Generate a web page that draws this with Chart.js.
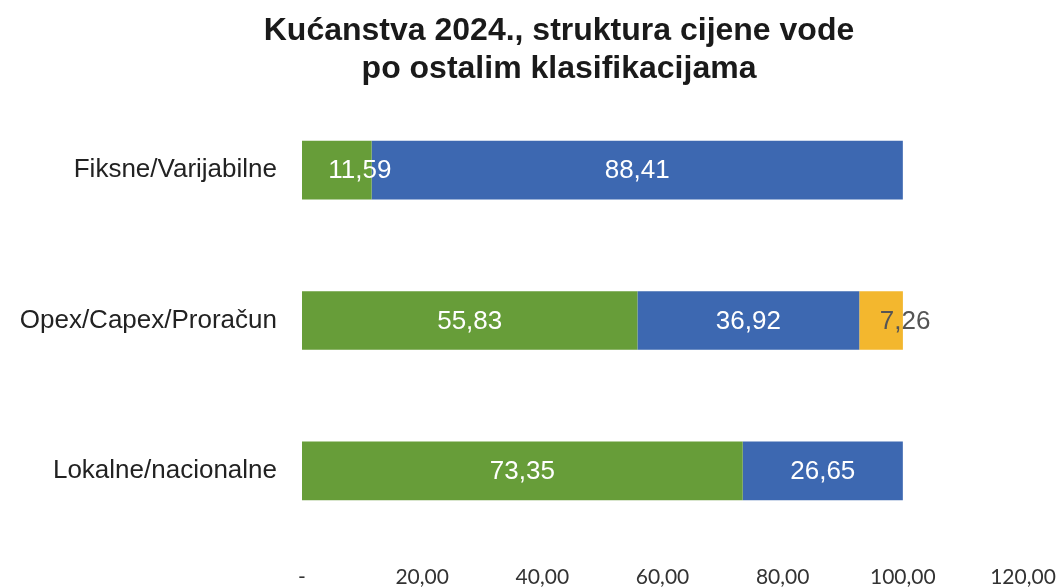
<!DOCTYPE html>
<html>
<head>
<meta charset="utf-8">
<script src="https://cdn.jsdelivr.net/npm/chart.js@4/dist/chart.umd.min.js"></script>
<style>
  html, body { margin: 0; padding: 0; background: #ffffff; }
  #wrap { width: 1058px; height: 587px; position: relative; }
</style>
</head>
<body>
<div id="wrap"><canvas id="c" width="1058" height="587"></canvas></div>
<script>
const titleLines = ['Kućanstva 2024., struktura cijene vode', 'po ostalim klasifikacijama'];
const categories = ['Fiksne/Varijabilne', 'Opex/Capex/Proračun', 'Lokalne/nacionalne'];
const seriesGreen = [11.59, 55.83, 73.35];
const seriesBlue = [88.41, 36.92, 26.65];
const seriesYellow = [null, 7.26, null];
const xTicks = [0, 20, 40, 60, 80, 100, 120];

function fmt(v) {
  if (v === 0) return '-';
  return v.toFixed(2).replace('.', ',');
}

const titlePlugin = {
  id: 'customTitle',
  afterDraw(chart, args, opts) {
    const ctx = chart.ctx;
    ctx.save();
    ctx.font = 'bold 32px "Liberation Sans", Arial, sans-serif';
    ctx.fillStyle = '#1a1a1a';
    ctx.textAlign = 'center';
    ctx.textBaseline = 'middle';
    titleLines.forEach((t, i) => ctx.fillText(t, opts.x, opts.y + i * opts.lineHeight));
    ctx.restore();
  }
};

const labelPlugin = {
  id: 'segLabels',
  afterDatasetsDraw(chart, args, opts) {
    const ctx = chart.ctx;
    ctx.save();
    ctx.font = '26px "Liberation Sans", Arial, sans-serif';
    ctx.textAlign = 'center';
    ctx.textBaseline = 'middle';
    chart.data.datasets.forEach((ds, di) => {
      const meta = chart.getDatasetMeta(di);
      meta.data.forEach((el, i) => {
        const v = ds.data[i];
        if (v === null || v === undefined) return;
        const shift = opts.shift[di + '-' + i] || 0;
        ctx.fillStyle = opts.colors[di];
        ctx.fillText(fmt(v), (el.x + el.base) / 2 + shift, el.y + 1);
      });
    });
    ctx.restore();
  }
};

new Chart(document.getElementById('c'), {
  type: 'bar',
  data: {
    labels: categories,
    datasets: [
      { label: 'A', data: seriesGreen, backgroundColor: '#679d39' },
      { label: 'B', data: seriesBlue, backgroundColor: '#3d68b1' },
      { label: 'C', data: seriesYellow, backgroundColor: '#f3b72e' }
    ]
  },
  options: {
    indexAxis: 'y',
    responsive: false,
    animation: false,
    devicePixelRatio: 1,
    layout: { padding: { top: 95, right: 35, left: 0, bottom: 0 } },
    datasets: { bar: { categoryPercentage: 1, barPercentage: 0.39 } },
    scales: {
      x: {
        stacked: true,
        min: 0,
        max: 120,
        afterBuildTicks(scale) { scale.ticks = xTicks.map(v => ({ value: v })); },
        afterFit(scale) { scale.height = 41; scale.paddingLeft = 0; scale.paddingRight = 0; },
        grid: { display: false, drawTicks: false },
        border: { display: false },
        ticks: {
          padding: 19,
          color: '#333333',
          font: { family: 'Lato, "Open Sans", sans-serif', size: 21 },
          callback: (v) => fmt(v),
          maxRotation: 0
        }
      },
      y: {
        stacked: true,
        afterFit(scale) { scale.width = 302; },
        grid: { display: false, drawTicks: false },
        border: { display: false },
        ticks: {
          padding: 25,
          color: '#222222',
          font: { family: '"Liberation Sans", Arial, sans-serif', size: 26 }
        }
      }
    },
    plugins: {
      legend: { display: false },
      title: { display: false },
      tooltip: { enabled: false },
      customTitle: { x: 559, y: 31, lineHeight: 38 },
      segLabels: {
        colors: ['#ffffff', '#ffffff', '#555555'],
        shift: { '0-0': 23, '2-1': 24 }
      }
    }
  },
  plugins: [titlePlugin, labelPlugin]
});
</script>
</body>
</html>
